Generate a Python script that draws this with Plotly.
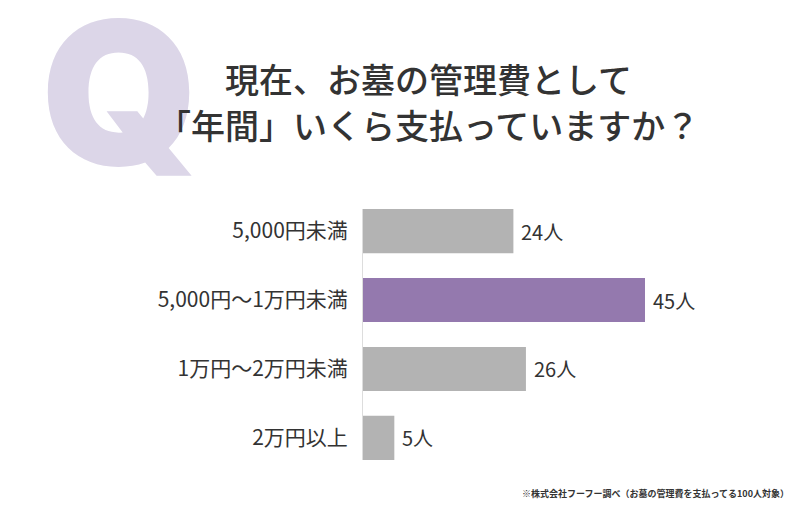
import plotly.graph_objects as go

categories = ['5,000円未満', '5,000円〜1万円未満', '1万円〜2万円未満', '2万円以上']
counts = [24, 45, 26, 5]
bar_colors = ['#b3b3b3', '#9479ae', '#b3b3b3', '#b3b3b3']
unit = '人'

title_line1 = '現在、お墓の管理費として'
title_line2 = '「年間」いくら支払っていますか？'
footnote = '※株式会社フーフー調べ（お墓の管理費を支払ってる100人対象）'

W, H = 800, 508
L, R, T, B = 363, 61, 209, 48
font_jp = 'Noto Sans CJK JP'


def px(x, y):
    # pixel position on the page -> paper coords of the plot area
    return (x - L) / (W - L - R), (H - B - y) / (H - T - B)


fig = go.Figure()
fig.add_trace(go.Bar(x=counts, y=categories, orientation='h',
                     marker=dict(color=bar_colors, line=dict(width=0)),
                     width=0.64, hoverinfo='skip'))

annotations = []
for c, v in zip(categories, counts):
    annotations.append(dict(x=v, y=c, xref='x', yref='y', text=f'{v}{unit}',
                            showarrow=False, xanchor='left', xshift=6,
                            font=dict(family=font_jp, size=20, color='#333333')))

qx, qy = px(119, 92)
annotations.append(dict(x=qx, y=qy, xref='paper', yref='paper', text='Q',
                        showarrow=False, xanchor='center', yanchor='middle',
                        font=dict(family='Inter', size=200, color='#dcd6e8', weight=900)))
for line, ypix in [(title_line1, 78), (title_line2, 124)]:
    tx, ty = px(428, ypix)
    annotations.append(dict(x=tx, y=ty, xref='paper', yref='paper', text=line,
                            showarrow=False, xanchor='center', yanchor='middle',
                            font=dict(family=font_jp, size=34, color='#333333', weight=500)))
fx, fy = px(791, 494)
annotations.append(dict(x=fx, y=fy, xref='paper', yref='paper', text=footnote,
                        showarrow=False, xanchor='right', yanchor='middle',
                        font=dict(family=font_jp, size=9, color='#333333', weight=700)))

fig.update_layout(
    width=W, height=H,
    margin=dict(l=L, r=R, t=T, b=B),
    paper_bgcolor='white', plot_bgcolor='white',
    showlegend=False,
    bargap=0.36,
    annotations=annotations,
)
fig.update_xaxes(range=[0, 60], visible=False, fixedrange=True)
fig.update_yaxes(range=[3.32, -0.32], showline=True, linecolor='#dddddd', linewidth=1,
                 showgrid=False, ticks='', ticklabelstandoff=10, fixedrange=True,
                 tickfont=dict(family=font_jp, size=21, color='#333333'))

# page body has a default 8px margin; drop it so the figure sits at the corner
fig.write_html('out.html', config={'displayModeBar': False},
               post_script="document.body.style.margin='0';")
